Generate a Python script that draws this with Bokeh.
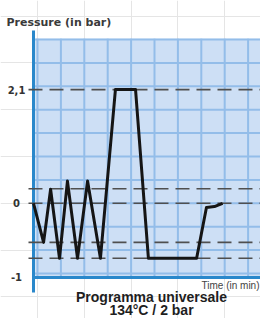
from bokeh.plotting import figure
from bokeh.models import Range1d
from bokeh.embed import file_html
from bokeh.resources import INLINE
from bokeh.core.properties import value

# ---- data (schematic chart units: one grid cell = 1 unit) ----
time = [-0.17, 0.26, 0.56, 0.94, 1.28, 1.71, 2.14, 2.69, 3.33, 4.19, 4.74, 6.80, 7.22, 7.56, 7.91]
pressure = [0, -1.67, 0.60, -2.35, 0.95, -2.35, 0.95, -2.35, 4.86, 4.86, -2.35, -2.35, -0.18, -0.14, 0]
level_values = [4.86, 0.62, 0, -1.67, -2.35]
tick_values = [4.86, 0, -3.17]
tick_labels = ["2,1", "0", "-1"]
grid_x = list(range(0, 11))
grid_y = list(range(-3, 8))

title_lines = ["Programma universale", "134°C / 2 bar"]
y_title = "Pressure (in bar)"
x_title = "Time (in min)"

# ---- figure ----
p = figure(width=260, height=318,
           x_range=Range1d(-1.58120, 9.52991), y_range=Range1d(-4.92308, 8.66667),
           min_border=0, toolbar_location=None, output_backend="svg",
           x_axis_location=None, y_axis_location=None)
p.outline_line_color = None
p.background_fill_color = "white"
p.border_fill_color = "white"

x_lo, x_hi = -0.1, 10.05
y_lo, y_hi = -3.17, 7.03

# grid background
p.quad(left=[x_lo], right=[x_hi], bottom=[y_lo], top=[y_hi],
       fill_color="#cddff5", line_color=None)
# grid lines
p.segment(x0=grid_x, x1=grid_x, y0=[y_lo] * len(grid_x), y1=[y_hi] * len(grid_x),
          line_color="#93bde9", line_width=2)
p.segment(x0=[x_lo] * len(grid_y), x1=[x_hi] * len(grid_y), y0=grid_y, y1=grid_y,
          line_color="#93bde9", line_width=2)

# blue axes
axis_color = "#2a88cb"
p.segment(x0=[-0.171], x1=[-0.171], y0=[-3.81], y1=[7.385], line_color=axis_color, line_width=3)
p.segment(x0=[-0.171], x1=[10.3], y0=[y_lo], y1=[y_lo], line_color=axis_color, line_width=3)

# dashed reference levels
n = len(level_values)
p.segment(x0=[-0.385] * n, x1=[10.3] * n, y0=level_values, y1=level_values,
          line_color="#4f4f4f", line_width=1.6, line_dash="14 7")

# pressure curve
p.line(time, pressure, line_color="#151515", line_width=3, line_join="round")

# tick labels
p.text(x=[-0.897] * len(tick_values), y=tick_values, text=tick_labels,
       text_font=value("DejaVu Sans"), text_font_style="bold", text_font_size="10px",
       text_color="#333333", text_align="center", text_baseline="middle")

# axis titles
p.text(x=[-1.325], y=[7.726], text=[y_title],
       text_font=value("DejaVu Sans"), text_font_style="bold", text_font_size="11px",
       text_color="#3a3a3a", text_align="left", text_baseline="alphabetic")
p.text(x=[9.487], y=[-3.513], text=[x_title],
       text_font=value("Liberation Sans"), text_font_size="10px",
       text_color="#444444", text_align="right", text_baseline="middle")

# chart title (two lines)
p.text(x=[4.872, 4.872], y=[-4.004, -4.581], text=title_lines,
       text_font=value("Liberation Sans"), text_font_style="bold", text_font_size="14px",
       text_color="#1e1e1e", text_align="center", text_baseline="middle")

open("out.html", "w").write(file_html(p, INLINE))
